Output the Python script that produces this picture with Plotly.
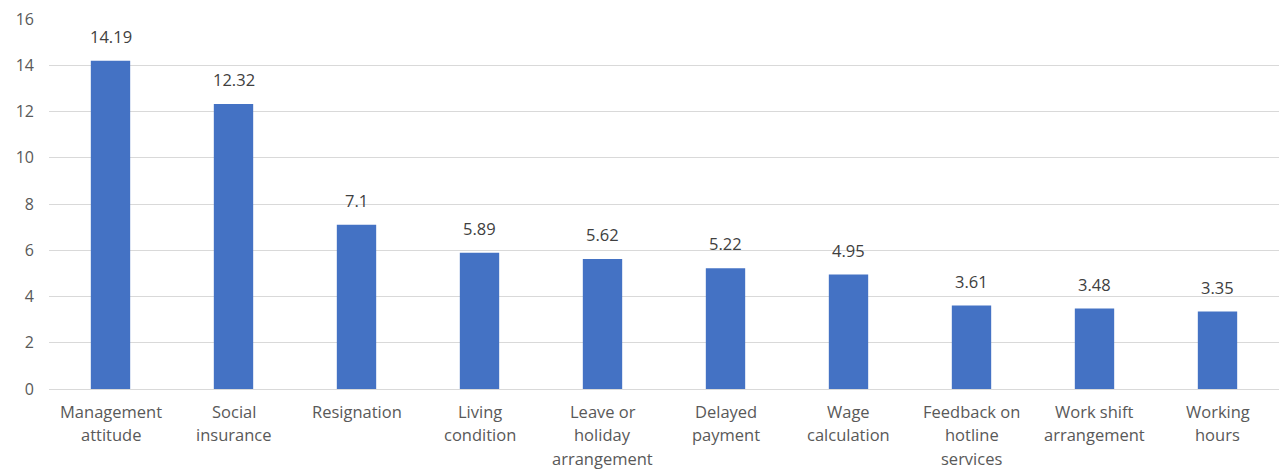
import plotly.graph_objects as go

categories = [
    "Management<br>attitude",
    "Social<br>insurance",
    "Resignation",
    "Living<br>condition",
    "Leave or<br>holiday<br>arrangement",
    "Delayed<br>payment",
    "Wage<br>calculation",
    "Feedback on<br>hotline<br>services",
    "Work shift<br>arrangement",
    "Working<br>hours",
]
values = [14.19, 12.32, 7.1, 5.89, 5.62, 5.22, 4.95, 3.61, 3.48, 3.35]
value_labels = ["14.19", "12.32", "7.1", "5.89", "5.62", "5.22", "4.95", "3.61", "3.48", "3.35"]
y_ticks = [0, 2, 4, 6, 8, 10, 12, 14, 16]

FONT = "Open Sans"
TEXT_GRAY = "#595959"
BAR_BLUE = "#4472C4"
GRID = "#d9d9d9"

x_pos = list(range(len(categories)))

fig = go.Figure()
fig.add_trace(go.Bar(
    x=x_pos,
    y=values,
    width=0.32,
    marker=dict(color=BAR_BLUE, line=dict(width=0)),
    hoverinfo="skip",
))

annotations = []
# value labels above each bar
for xi, v, lab in zip(x_pos, values, value_labels):
    annotations.append(dict(
        x=xi, y=v, xref="x", yref="y", text=lab, showarrow=False,
        yanchor="bottom", yshift=11,
        font=dict(family=FONT, size=16.5, color="#404040"),
    ))
# category labels, one annotation per line for wider line spacing
for xi, cat in zip(x_pos, categories):
    for li, line in enumerate(cat.split("<br>")):
        annotations.append(dict(
            x=xi, y=0, xref="x", yref="y", text=line, showarrow=False,
            yanchor="middle", yshift=-22 - 23.5 * li,
            font=dict(family=FONT, size=16.5, color=TEXT_GRAY),
        ))

fig.update_layout(
    width=1280, height=471,
    margin=dict(l=49, r=1, t=19, b=82),
    paper_bgcolor="white", plot_bgcolor="white",
    showlegend=False,
    bargap=0.68,
    annotations=annotations,
    xaxis=dict(
        range=[-0.5, len(categories) - 0.5],
        showticklabels=False, showgrid=False, zeroline=False,
        showline=True, linecolor=GRID, linewidth=1,
        fixedrange=True,
    ),
    yaxis=dict(
        range=[0, 16], tickvals=y_ticks,
        showgrid=True, gridcolor=GRID, gridwidth=1,
        zeroline=False, showline=False,
        ticks="", ticklabelstandoff=14,
        tickfont=dict(family=FONT, size=16, color=TEXT_GRAY),
        fixedrange=True,
    ),
)

fig.write_html("out.html")
